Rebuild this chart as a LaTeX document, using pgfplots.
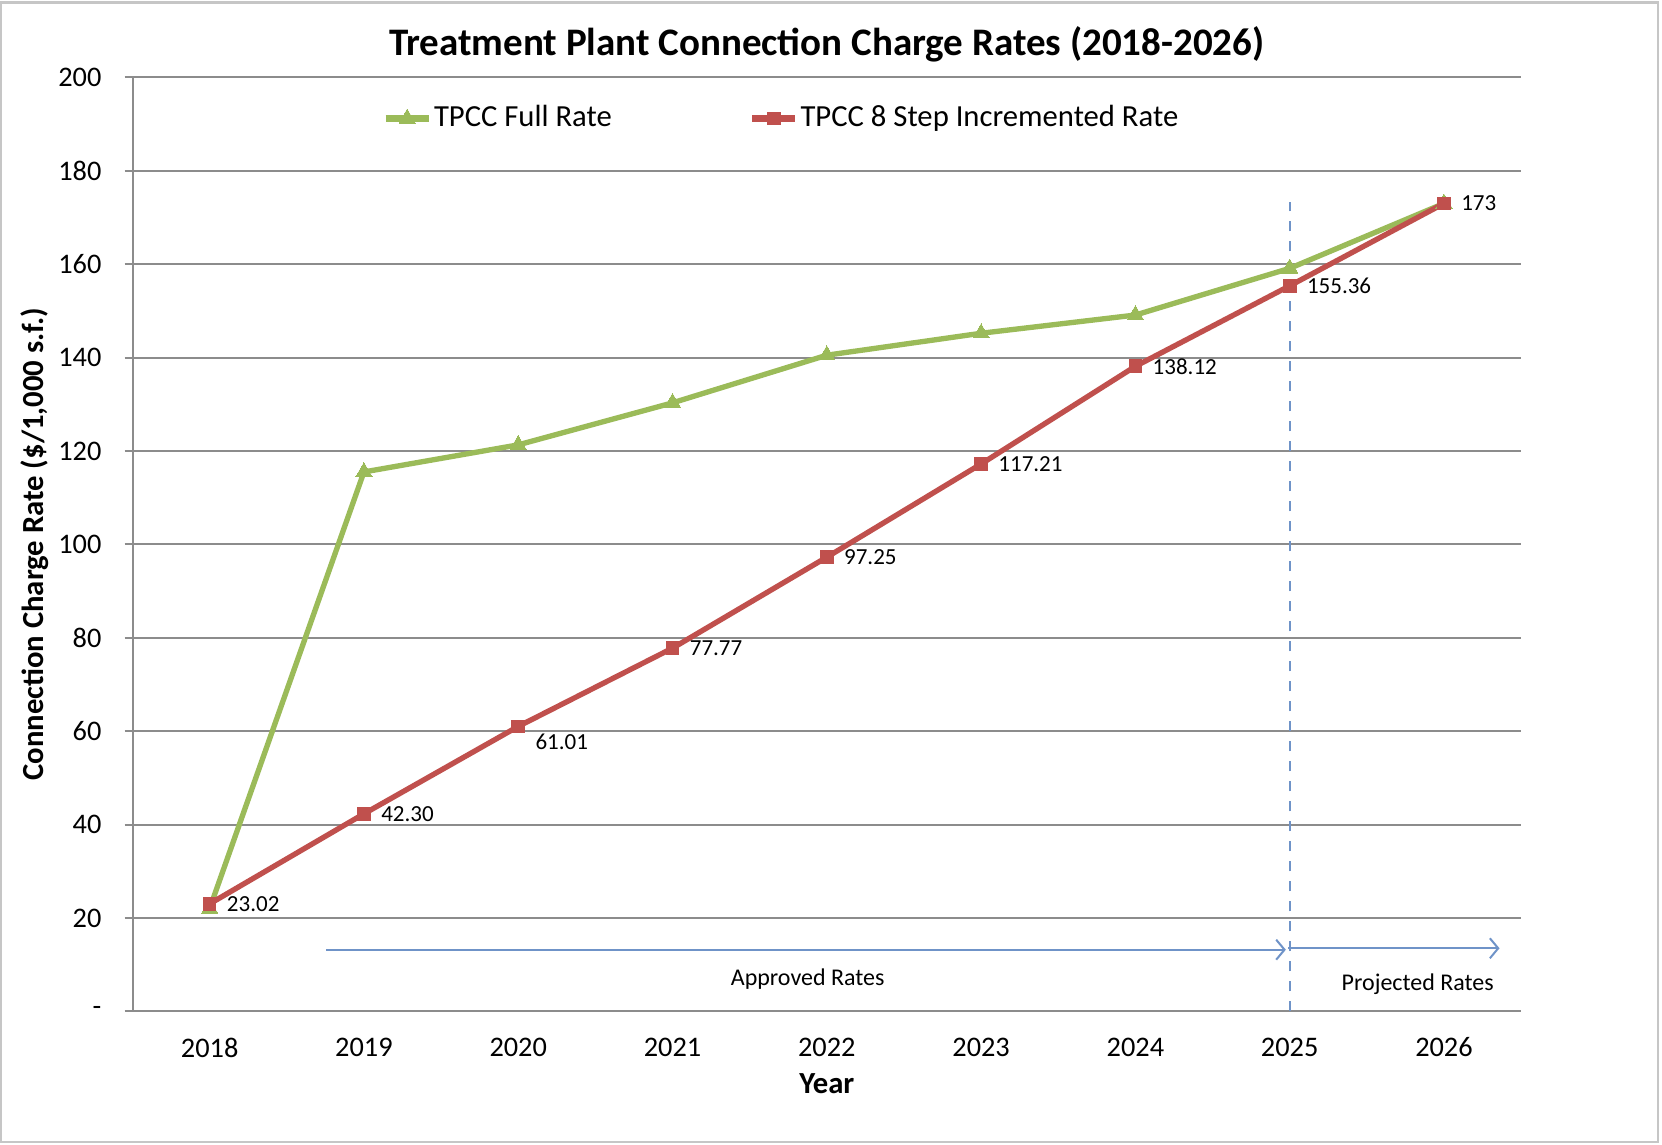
\documentclass[border=0pt]{standalone}
\usepackage{fontspec}
\setmainfont{Carlito}
\usepackage{pgfplots}
\usepackage{pgfplotstable}
\pgfplotsset{compat=1.18}
\usetikzlibrary{arrows.meta}
\definecolor{tgreen}{HTML}{9BBB59}
\definecolor{tred}{HTML}{C0504D}
\definecolor{gridgray}{HTML}{8C8C8C}
\definecolor{annblue}{HTML}{6F93C8}

\pgfplotstableread{
x y
0 22
1 115.5
2 121.3
3 130.3
4 140.5
5 145.2
6 149.1
7 159.1
8 173
}\fullrate

\pgfplotstableread{
x y label dy
0 23.02 23.02 0
1 42.30 42.30 0
2 61.01 61.01 -4.5
3 77.77 77.77 0
4 97.25 97.25 0
5 117.21 117.21 0
6 138.12 138.12 0
7 155.36 155.36 0
8 173 173 0
}\steprate

\begin{document}
\begin{tikzpicture}
\useasboundingbox (0,0) rectangle (498.6pt,343.4pt);
\draw[gray!45, line width=0.7pt] (0.4pt,0.9pt) rectangle (497.4pt,342.6pt);
\begin{axis}[
  at={(39.75pt,40pt)}, anchor=south west,
  scale only axis, width=416.6pt, height=280.2pt,
  xmin=-0.5, xmax=8.5, ymin=0, ymax=200,
  axis lines*=left,
  axis line style={gridgray, line width=0.6pt},
  tick align=outside,
  xtick={0,1,2,3,4,5,6,7,8},
  xticklabels={2018,2019,2020,2021,2022,2023,2024,2025,2026},
  major x tick style={draw=none},
  extra x ticks={-0.5,0.5,1.5,2.5,3.5,4.5,5.5,6.5,7.5,8.5},
  extra x tick labels={},
  extra x tick style={grid=none, major tick length=2.6pt, tick style={draw=gridgray, line width=0.6pt}},
  ytick={0,20,40,60,80,100,120,140,160,180,200},
  yticklabels={-,20,40,60,80,100,120,140,160,180,200},
  major y tick style={draw=gridgray, line width=0.6pt},
  major tick length=2.4pt,
  ymajorgrids,
  grid style={gridgray, line width=0.6pt},
  ticklabel style={font=\fontsize{8.5}{10}\selectfont, text=black},
  yticklabel style={xshift=-3.4pt},
  xticklabel style={yshift=-2pt},
  ylabel={Connection Charge Rate (\$/1,000 s.f.)},
  ylabel style={at={(axis description cs:-0.0701,0.5)}, anchor=center, font=\fontsize{9.2}{11}\selectfont\bfseries},
  xlabel={Year},
  xlabel style={at={(axis description cs:0.5,-0.0771)}, anchor=center, font=\fontsize{9.2}{11}\selectfont\bfseries},
  legend columns=2,
  legend style={at={(0.172,0.956)}, anchor=west, draw=none, fill=none,
    font=\fontsize{9.2}{11}\selectfont,
    /tikz/every even column/.append style={column sep=40.5pt},
    nodes={inner xsep=0.5pt}},
  legend image code/.code={\draw[mark repeat=2, mark phase=2, #1, line width=2.1pt] plot coordinates {(0pt,0pt) (6.5pt,0pt) (13pt,0pt)};},
  clip=false,
]
\addplot[tgreen, line width=1.6pt, mark=triangle*, mark size=2.8pt, mark options={solid, line width=0pt}] table[x=x, y=y] {\fullrate};
\addlegendentry{TPCC Full Rate}
\addplot[tred, line width=1.6pt, mark=square*, mark size=1.9pt, mark options={solid, line width=0pt},
  nodes near coords, point meta=explicit symbolic,
  visualization depends on={\thisrow{dy} \as \dy},
  every node near coord/.append style={anchor=west, xshift=4.2pt, yshift=\dy pt, text=black, font=\fontsize{6.9}{8}\selectfont, inner sep=1pt}]
  table[x=x, y=y, meta=label] {\steprate};
\addlegendentry{TPCC 8 Step Incremented Rate}

\draw[annblue, dashed, line width=0.5pt] (axis cs:7,0) -- (axis cs:7,173.4);
\draw[annblue, line width=0.6pt, -{Straight Barb[length=2.5pt, width=6pt]}] (axis cs:0.757,13.2) -- (axis cs:6.975,13.2);
\draw[annblue, line width=0.6pt, -{Straight Barb[length=2.5pt, width=6pt]}] (axis cs:6.99,13.5) -- (axis cs:8.36,13.5);
\node[font=\fontsize{7.2}{9}\selectfont] at (axis cs:3.876,7.0) {Approved Rates};
\node[font=\fontsize{7.2}{9}\selectfont] at (axis cs:7.83,5.9) {Projected Rates};
\node[font=\fontsize{11.7}{14}\selectfont\bfseries] at ([yshift=10pt]axis description cs:0.5,1) {Treatment Plant Connection Charge Rates (2018-2026)};
\end{axis}
\end{tikzpicture}
\end{document}
